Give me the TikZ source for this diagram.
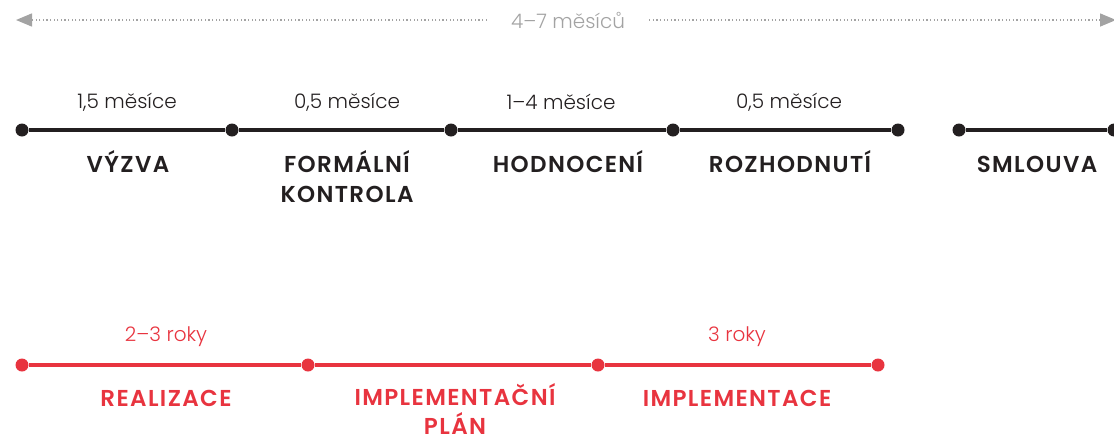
\documentclass[tikz,border=0pt]{standalone}
\usepackage{fontspec}
\setmainfont{Poppins}[BoldFont={Poppins SemiBold}]
\newfontfamily\lightfont{Poppins Light}
\usetikzlibrary{arrows.meta}
\definecolor{darkline}{HTML}{231F20}
\definecolor{redline}{HTML}{E8343F}
\definecolor{greyline}{HTML}{A3A3A3}
\begin{document}
\begin{tikzpicture}[x=1pt, y=-1pt]
\tikzstyle{dot} = [circle, fill, inner sep=0pt, minimum size=13pt]
\tikzstyle{phase} = [font=\fontsize{23}{30}\selectfont\bfseries\addfontfeature{LetterSpace=6}, align=center, anchor=base]
\tikzstyle{span} = [font=\fontsize{20}{22}\selectfont\lightfont]
\tikzstyle{bar} = [line width=3.4pt]

\useasboundingbox (0,0) rectangle (1114,437);

% total duration
\node[span, greyline, inner xsep=24pt] (total) at (568,20) {4–7 měsíců};
\coordinate (lend) at (16,20);
\coordinate (rend) at (1116,20);
\draw[greyline, line width=1.5pt, dash pattern=on 1.2pt off 2.4pt, -{Triangle[length=16pt, width=13pt]}] (total) -- (lend);
\draw[greyline, line width=1.5pt, dash pattern=on 1.2pt off 2.4pt, -{Triangle[length=16pt, width=13pt]}] (total) -- (rend);

% call phases
\node[dot, darkline] (c1) at (22,130) {};
\node[dot, darkline] (c2) at (232,130) {};
\node[dot, darkline] (c3) at (451,130) {};
\node[dot, darkline] (c4) at (673,130) {};
\node[dot, darkline] (c5) at (898,130) {};
\node[dot, darkline] (s1) at (959,130) {};
\node[dot, darkline] (s2) at (1114,130) {};

\draw[bar, darkline] (c1) -- (c2) -- (c3) -- (c4) -- (c5);
\draw[bar, darkline] (s1) -- (s2);

\node[span, darkline] (d1) at (127,102) {1,5 měsíce};
\node[span, darkline] (d2) at (347,102) {0,5 měsíce};
\node[span, darkline] (d3) at (561,102) {1–4 měsíce};
\node[span, darkline] (d4) at (789,102) {0,5 měsíce};

% base anchor = last line
\node[phase, darkline] (vyzva) at (128,172) {VÝZVA};
\node[phase, darkline] (kontrola) at (347,202) {FORMÁLNÍ\\KONTROLA};
\node[phase, darkline] (hodnoceni) at (568,172) {HODNOCENÍ};
\node[phase, darkline] (rozhodnuti) at (790,172) {ROZHODNUTÍ};
\node[phase, darkline] (smlouva) at (1037,172) {SMLOUVA};

% project phases
\node[dot, redline] (r1) at (22,365) {};
\node[dot, redline] (r2) at (308,365) {};
\node[dot, redline] (r3) at (598,365) {};
\node[dot, redline] (r4) at (878,365) {};

\draw[bar, redline] (r1) -- (r2) -- (r3) -- (r4);

\node[span, redline] (e1) at (166,337) {2–3 roky};
\node[span, redline] (e2) at (737,337) {3 roky};

\node[phase, redline] (realizace) at (166,406) {REALIZACE};
\node[phase, redline, font=\fontsize{23}{29}\selectfont\bfseries\addfontfeature{LetterSpace=6}] (plan) at (455,434) {IMPLEMENTAČNÍ\\PLÁN};
\node[phase, redline] (implementace) at (737,406) {IMPLEMENTACE};
\end{tikzpicture}
\end{document}
